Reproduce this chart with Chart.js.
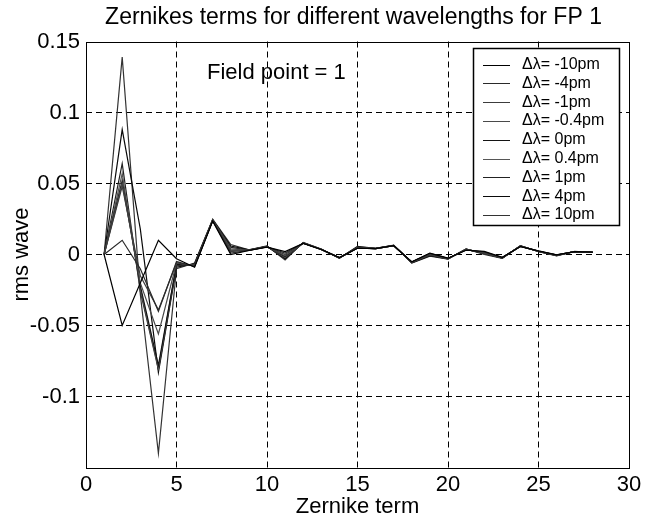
<!DOCTYPE html>
<html lang="en">
<head>
<meta charset="UTF-8" />
<title>Zernikes terms for different wavelengths for FP 1</title>
<script src="https://cdn.jsdelivr.net/npm/chart.js"></script>
<style>
  body { margin: 0; background: #fff; }
  canvas { display: block; }
</style>
</head>
<body>
<canvas id="chart" width="651" height="521"></canvas>
<script>
const chartTitle = 'Zernikes terms for different wavelengths for FP 1';
const note = 'Field point = 1';
const seriesLabels = ['Δλ= -10pm', 'Δλ= -4pm', 'Δλ= -1pm', 'Δλ= -0.4pm', 'Δλ= 0pm', 'Δλ= 0.4pm', 'Δλ= 1pm', 'Δλ= 4pm', 'Δλ= 10pm'];
const seriesColors = ['#000000', '#2a2a2a', '#3c3c3c', '#4a4a4a', '#141414', '#565656', '#222222', '#0a0a0a', '#333333'];

// Zernike term index
const terms = [1, 2, 3, 4, 5, 6, 7, 8, 9, 10, 11, 12, 13, 14, 15, 16, 17, 18, 19, 20, 21, 22, 23, 24, 25, 26, 27, 28];

// rms wave, one array per wavelength offset
const dlM10 = [0, -0.05, -0.02, 0.01, -0.003, -0.009, 0.0235, 0.0, 0.0028, 0.0052, 0.002, 0.0078, 0.0035, -0.0022, 0.0044, 0.0042, 0.0062, -0.0052, 0.001, -0.0026, 0.003, 0.0022, -0.002, 0.0056, 0.0025, -0.0002, 0.002, 0.0017];
const dlM4 = [0, 0.01, -0.01, -0.04, -0.005, -0.0085, 0.0238, 0.001, 0.0029, 0.0053, 0.001, 0.0079, 0.0035, -0.0022, 0.0045, 0.0042, 0.0062, -0.0053, 0.0007, -0.0027, 0.0032, 0.0018, -0.0021, 0.0057, 0.0024, -0.0003, 0.002, 0.0016];
const dlM1 = [0, 0.048, -0.015, -0.039, -0.006, -0.008, 0.024, 0.002, 0.003, 0.0054, 0.0, 0.008, 0.0035, -0.0023, 0.0046, 0.0042, 0.0063, -0.0054, 0.0004, -0.0028, 0.0034, 0.0015, -0.0022, 0.0058, 0.0023, -0.0004, 0.002, 0.0016];
const dlM04 = [0, 0.05, -0.02, -0.056, -0.006, -0.008, 0.024, 0.003, 0.003, 0.0055, -0.001, 0.008, 0.0035, -0.0023, 0.0047, 0.0042, 0.0063, -0.0054, 0.0002, -0.0028, 0.0035, 0.0013, -0.0023, 0.0058, 0.0023, -0.0005, 0.002, 0.0016];
const dl0 = [0, 0.052, -0.022, -0.078, -0.007, -0.0078, 0.024, 0.003, 0.003, 0.0055, -0.0015, 0.008, 0.0035, -0.0023, 0.0047, 0.0042, 0.0063, -0.0054, 0.0, -0.0028, 0.0035, 0.0012, -0.0023, 0.0058, 0.0023, -0.0005, 0.002, 0.0016];
const dlP04 = [0, 0.057, -0.024, -0.08, -0.007, -0.0075, 0.0242, 0.004, 0.003, 0.0056, -0.002, 0.0081, 0.0036, -0.0024, 0.0048, 0.0042, 0.0064, -0.0055, -0.0002, -0.0029, 0.0036, 0.001, -0.0024, 0.0059, 0.0022, -0.0006, 0.002, 0.0016];
const dlP1 = [0, 0.064, -0.026, -0.081, -0.008, -0.007, 0.0244, 0.005, 0.0031, 0.0057, -0.0025, 0.0082, 0.0036, -0.0024, 0.005, 0.0043, 0.0064, -0.0056, -0.0005, -0.003, 0.0037, 0.0008, -0.0025, 0.006, 0.0022, -0.0007, 0.0021, 0.0015];
const dlP4 = [0, 0.088, 0.018, -0.083, -0.009, -0.0065, 0.0245, 0.006, 0.0032, 0.0058, -0.003, 0.0083, 0.0037, -0.0025, 0.0053, 0.0043, 0.0065, -0.0058, -0.0008, -0.0031, 0.0038, 0.0005, -0.0026, 0.0061, 0.0021, -0.0008, 0.0021, 0.0015];
const dlP10 = [0, 0.139, -0.028, -0.14, -0.01, -0.006, 0.0248, 0.007, 0.0033, 0.006, -0.0038, 0.0085, 0.0038, -0.0026, 0.0057, 0.0044, 0.0066, -0.006, -0.0012, -0.0033, 0.004, 0.0, -0.0028, 0.0063, 0.002, -0.001, 0.0022, 0.0014];

const allSeries = [dlM10, dlM4, dlM1, dlM04, dl0, dlP04, dlP1, dlP4, dlP10];

const FONT = "'Liberation Sans', Arial, sans-serif";

// no dashed grid line on the frame edges
const innerGrid = ctx => (ctx.index === 0 || ctx.index === ctx.scale.ticks.length - 1) ? 'rgba(0,0,0,0)' : '#000';

// frame, title, note and the boxed legend
const extras = {
  id: 'extras',
  afterDraw(chart) {
    const { ctx, chartArea: a } = chart;
    ctx.save();
    ctx.strokeStyle = '#000';
    ctx.lineWidth = 1;
    ctx.strokeRect(Math.round(a.left) + 0.5, Math.round(a.top) + 0.5, Math.round(a.right - a.left), Math.round(a.bottom - a.top));

    ctx.fillStyle = '#000';
    ctx.textBaseline = 'middle';
    ctx.textAlign = 'center';
    ctx.font = '23px ' + FONT;
    ctx.fillText(chartTitle, (a.left + a.right) / 2 - 4, 18);

    ctx.textAlign = 'left';
    ctx.font = '22px ' + FONT;
    ctx.fillText(note, 207, 73);

    // legend
    const bx = 473, by = 48, bw = 146, bh = 177;
    ctx.fillStyle = '#fff';
    ctx.fillRect(bx, by, bw, bh);
    ctx.strokeStyle = '#000';
    ctx.lineWidth = 1.5;
    ctx.strokeRect(bx + 0.5, by + 0.5, bw, bh);
    ctx.lineWidth = 1;
    ctx.font = '16px ' + FONT;
    chart.data.datasets.forEach((ds, i) => {
      const y = 64.5 + i * 18.8;
      ctx.strokeStyle = ds.borderColor;
      ctx.beginPath();
      ctx.moveTo(483, Math.round(y) + 0.5);
      ctx.lineTo(510, Math.round(y) + 0.5);
      ctx.stroke();
      ctx.fillStyle = '#000';
      ctx.fillText(ds.label, 522, y);
    });
    ctx.restore();
  }
};

new Chart(document.getElementById('chart'), {
  type: 'line',
  data: {
    datasets: allSeries.map((vals, i) => ({
      label: seriesLabels[i],
      data: terms.map((t, j) => ({ x: t, y: vals[j] })),
      borderColor: seriesColors[i],
      borderWidth: 1.2,
      pointRadius: 0,
      tension: 0,
      fill: false
    }))
  },
  options: {
    responsive: false,
    animation: false,
    devicePixelRatio: 1,
    layout: { padding: { top: 41.5, right: 22, left: 0, bottom: 0 } },
    plugins: { legend: { display: false }, tooltip: { enabled: false } },
    scales: {
      x: {
        type: 'linear',
        min: 0, max: 30,
        ticks: { stepSize: 5, padding: 4, color: '#000', font: { family: FONT, size: 22 }, maxRotation: 0 },
        grid: { color: innerGrid, lineWidth: 1, drawTicks: false },
        border: { display: false, dash: [6, 4] },
        title: { display: true, text: 'Zernike term', color: '#000', font: { family: FONT, size: 22 }, padding: { top: 0, bottom: 1 } },
        afterFit(scale) { scale.height = 53.5; }
      },
      y: {
        min: -0.15, max: 0.15,
        ticks: {
          stepSize: 0.05, padding: 6, color: '#000', font: { family: FONT, size: 22 },
          callback: v => Math.abs(v + 0.15) < 1e-9 ? '' : String(Math.round(v * 100) / 100)
        },
        grid: { color: innerGrid, lineWidth: 1, drawTicks: false },
        border: { display: false, dash: [6, 4] },
        title: { display: true, text: 'rms wave', color: '#000', font: { family: FONT, size: 22 }, padding: { top: 9, bottom: 0 } },
        afterFit(scale) { scale.width = 86; }
      }
    }
  },
  plugins: [extras]
});
</script>
</body>
</html>
